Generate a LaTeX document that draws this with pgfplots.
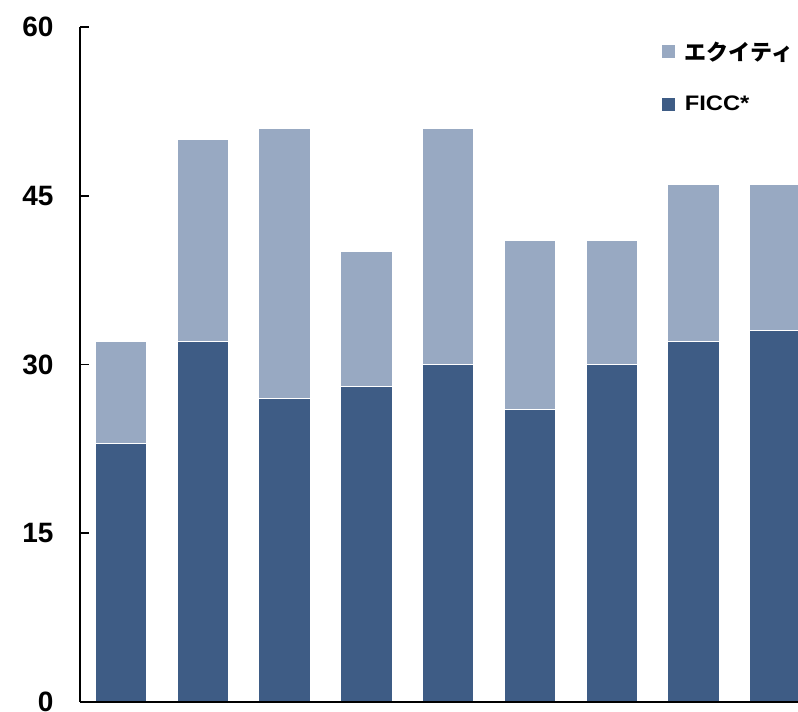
\documentclass[border=0pt]{standalone}
\usepackage{fontspec}
\setmainfont{Liberation Sans}
\newfontfamily\legfont{Liberation Sans}[FakeStretch=1.13]
\newfontfamily\cjk{Noto Sans CJK JP}
\usepackage{pgfplots}
\pgfplotsset{compat=1.18}
\definecolor{ficc}{RGB}{62,92,133}
\definecolor{equity}{RGB}{152,169,194}
\begin{document}
\begin{tikzpicture}
\useasboundingbox (0,0) rectangle (798pt,712pt);
\clip (0,0) rectangle (798pt,712pt);
\begin{axis}[
  at={(80pt,10pt)}, anchor=south west,
  scale only axis, width=718pt, height=675pt,
  ybar stacked, bar width=0.63,
  xmin=-0.504, xmax=8.278, ymin=0, ymax=60,
  axis on top,
  axis x line*=bottom, axis y line*=left,
  axis line style={line width=1.6pt, black},
  xtick=\empty,
  ytick={0,15,30,45,60},
  tick align=inside,
  major tick length=9pt,
  y tick style={line width=1.6pt, black},
  tick label style={font=\bfseries\fontsize{28}{30}\selectfont},
  /pgf/number format/assume math mode=true,
  yticklabel style={xshift=-23pt},
  reverse legend,
  legend cell align=left,
  legend style={at={(0.811,0.9778)}, anchor=north west, draw=none, fill=none,
    inner sep=0pt, outer sep=0pt, row sep=34pt,
    nodes={inner sep=0pt},
    font=\bfseries\fontsize{21}{22}\selectfont,
    /tikz/every odd column/.style={column sep=9.5pt}},
  every axis plot/.append style={draw=white, line width=1pt},
]
\addplot[fill=ficc, legend image code/.code={\fill[ficc] (0,-6pt) rectangle (12pt,6pt);}]
  coordinates {(0,23) (1,32) (2,27) (3,28) (4,30) (5,26) (6,30) (7,32) (8,33)};
\addplot[fill=equity, legend image code/.code={\fill[equity] (0,-6pt) rectangle (12pt,6pt);}]
  coordinates {(0,9) (1,18) (2,24) (3,12) (4,21) (5,15) (6,11) (7,14) (8,13)};
\legend{{\legfont\bfseries FICC*}, {\cjk\bfseries\fontsize{22}{24}\selectfont エクイティ}}
\end{axis}
\end{tikzpicture}
\end{document}
